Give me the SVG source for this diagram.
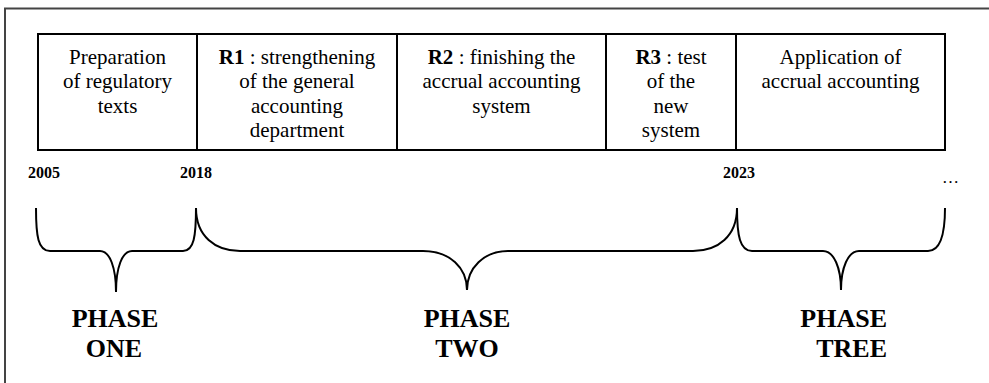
<svg xmlns="http://www.w3.org/2000/svg" width="989" height="383" viewBox="0 0 989 383">
<style>
.cell{fill:#fff;stroke:#000;stroke-width:2}
.t{font-family:"Liberation Serif","Times New Roman",serif;font-size:21px;fill:#000;text-anchor:middle}
.yr{font-family:"Liberation Serif","Times New Roman",serif;font-size:16px;font-weight:bold;fill:#000}
.ph{font-family:"Liberation Serif","Times New Roman",serif;font-size:26px;font-weight:bold;fill:#000;text-anchor:middle}
.brace{fill:none;stroke:#000;stroke-width:2}
</style>
<rect width="989" height="383" fill="#fff"/>
<path d="M5,390 V8.5 H995" fill="none" stroke="#444" stroke-width="2"/>
<g id="cell-prep">
<rect class="cell" x="38" y="34" width="159" height="116"/>
<text class="t" x="117.5" y="63.5">Preparation</text>
<text class="t" x="117.5" y="88">of regulatory</text>
<text class="t" x="117.5" y="112.5">texts</text>
</g>
<g id="cell-r1">
<rect class="cell" x="197" y="34" width="200" height="116"/>
<text class="t" x="297" y="63.5"><tspan font-weight="bold">R1</tspan> : strengthening</text>
<text class="t" x="297" y="88">of the general</text>
<text class="t" x="297" y="112.5">accounting</text>
<text class="t" x="297" y="137">department</text>
</g>
<g id="cell-r2">
<rect class="cell" x="397" y="34" width="209" height="116"/>
<text class="t" x="501.5" y="63.5"><tspan font-weight="bold">R2</tspan> : finishing the</text>
<text class="t" x="501.5" y="88">accrual accounting</text>
<text class="t" x="501.5" y="112.5">system</text>
</g>
<g id="cell-r3">
<rect class="cell" x="606" y="34" width="130" height="116"/>
<text class="t" x="671" y="63.5"><tspan font-weight="bold">R3</tspan> : test</text>
<text class="t" x="671" y="88">of the</text>
<text class="t" x="671" y="112.5">new</text>
<text class="t" x="671" y="137">system</text>
</g>
<g id="cell-app">
<rect class="cell" x="736" y="34" width="209" height="116"/>
<text class="t" x="840.5" y="63.5">Application of</text>
<text class="t" x="840.5" y="88">accrual accounting</text>
</g>
<g id="years">
<text class="yr" x="28" y="178">2005</text>
<text class="yr" x="180" y="178">2018</text>
<text class="yr" x="723" y="178">2023</text>
<text x="942" y="183" font-family="Liberation Serif, serif" font-size="17" fill="#000">…</text>
</g>
<g id="connectors">
<path class="brace" d="M36,208 C36,236 38,251 50,251 H100 C110,251 116,268 116,292 C116,268 122,251 132,251 H183 C194,251 196,236 196,208"/>
<path class="brace" d="M196,208 C196,236 215,251 240,251 H423 C450,251 467,268 467,290 C467,268 484,251 508,251 H693 C718,251 737,236 737,208"/>
<path class="brace" d="M737,208 C737,236 740,251 752,251 H823 C834,251 841,268 841,290 C841,268 848,251 859,251 H928 C940,251 945,236 945,208"/>
</g>
<g id="phase-one">
<text class="ph" x="115" y="327">PHASE</text>
<text class="ph" x="114" y="357">ONE</text>
</g>
<g id="phase-two">
<text class="ph" x="467" y="327">PHASE</text>
<text class="ph" x="467" y="357">TWO</text>
</g>
<g id="phase-tree">
<text class="ph" x="887" y="327" style="text-anchor:end">PHASE</text>
<text class="ph" x="887" y="357" style="text-anchor:end">TREE</text>
</g>
</svg>
